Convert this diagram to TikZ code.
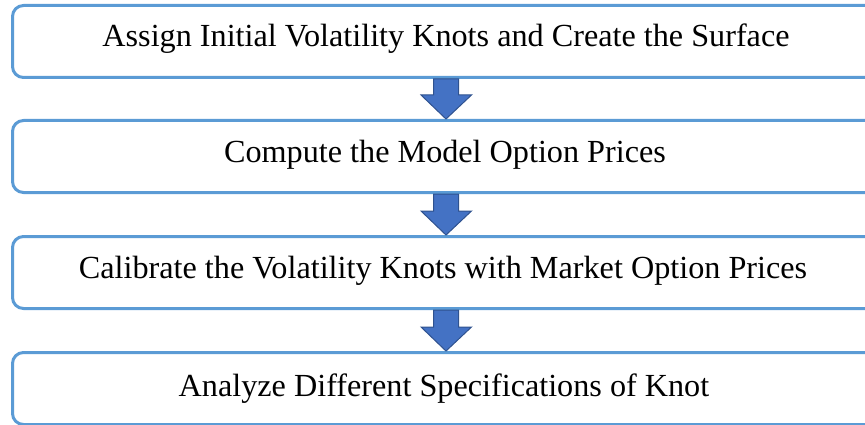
\documentclass[tikz,border=0pt]{standalone}
\usepackage{fontspec}
\setmainfont{Liberation Serif}
\usetikzlibrary{calc}
\definecolor{boxblue}{HTML}{5B9BD5}
\definecolor{arrfill}{HTML}{4472C4}
\definecolor{arrdraw}{HTML}{2F528F}
\begin{document}
\begin{tikzpicture}[x=1pt,y=1pt,
  stepbox/.style={draw=boxblue, line width=3pt, rounded corners=11pt, fill=white,
    minimum width=869pt, minimum height=72pt, inner sep=0pt, anchor=north west},
  steptext/.style={anchor=base, inner sep=0pt, font=\fontsize{32.2}{37}\selectfont},
  blockarrow/.style={fill=arrfill, draw=arrdraw, line width=1pt, line join=miter}
]
\useasboundingbox (0,0) rectangle (865,-425);
\clip (0,0) rectangle (865,-425);
\node[stepbox] (b1) at (11,-4) {};
\node[stepbox] (b2) at (11,-119) {};
\node[stepbox] (b3) at (11,-235) {};
\node[stepbox] (b4) at (11,-351) {};
\node[steptext] (t1) at (446,-47) {Assign Initial Volatility Knots and Create the Surface};
\node[steptext] (t2) at (445,-163) {Compute the Model Option Prices};
\node[steptext] (t3) at (443,-278) {Calibrate the Volatility Knots with Market Option Prices};
\node[steptext] (t4) at (444,-396) {Analyze Different Specifications of Knot};
\foreach \a/\b in {b1/b2, b2/b3, b3/b4} {
  \draw[blockarrow] ($(\a.south)+(-13.5,0)$) -- ($(\a.south)+(11.5,0)$)
    -- ($(\b.north)+(11.5,24)$) -- ($(\b.north)+(24.5,24)$)
    -- ($(\b.north)+(-1,0)$) -- ($(\b.north)+(-26,24)$)
    -- ($(\b.north)+(-13.5,24)$) -- cycle;
}
\end{tikzpicture}
\end{document}
